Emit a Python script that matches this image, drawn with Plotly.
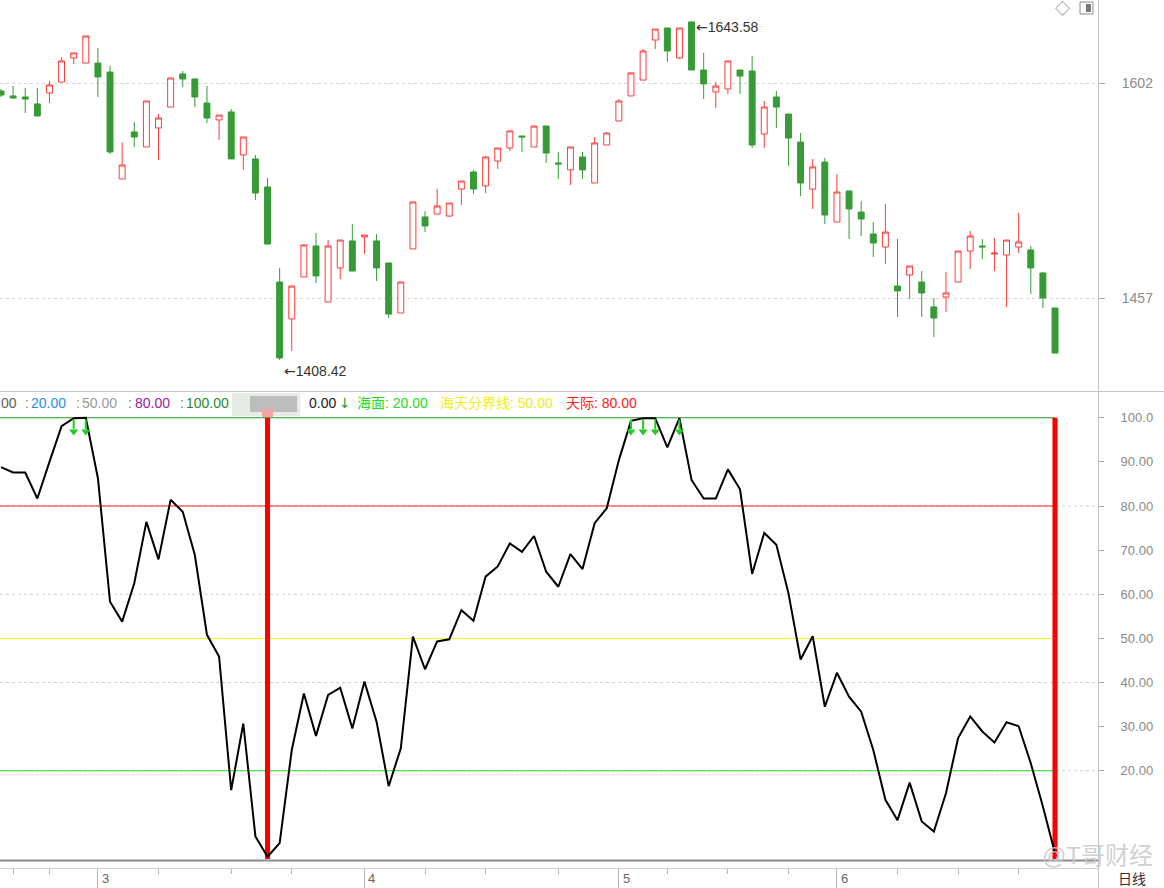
import plotly.graph_objects as go

W, H = 1164, 888

# ---------------- data ----------------
opens = [1596.6, 1593.3, 1592.6, 1587.9, 1595.3, 1602.7, 1618.9, 1615.5, 1615.5, 1609.4,
         1537.3, 1569.0, 1558.9, 1571.7, 1585.8, 1608.1, 1604.7, 1588.5, 1577.1, 1582.5,
         1553.5, 1550.8, 1531.9, 1467.8, 1442.9, 1471.2, 1492.1, 1454.3, 1477.3, 1495.5,
         1498.2, 1495.5, 1480.6, 1446.9, 1490.1, 1511.7, 1513.7, 1512.3, 1530.5, 1542.0,
         1532.6, 1549.4, 1558.2, 1566.3, 1558.9, 1573.0, 1548.1, 1543.4, 1552.1, 1534.6,
         1560.2, 1576.4, 1593.3, 1604.0, 1631.0, 1639.1, 1618.9, 1643.2, 1610.8, 1596.0,
         1598.0, 1610.8, 1610.1, 1567.6, 1592.6, 1581.1, 1562.2, 1530.5, 1548.7, 1508.3,
         1529.2, 1515.0, 1500.2, 1491.4, 1465.1, 1472.5, 1467.8, 1451.0, 1457.7, 1467.8,
         1488.7, 1492.1, 1486.7, 1486.0, 1491.4, 1489.4, 1473.9, 1450.3]
highs = [1598.0, 1600.0, 1598.7, 1598.7, 1603.4, 1619.6, 1622.3, 1633.7, 1625.6, 1613.5,
         1562.2, 1575.7, 1589.9, 1581.1, 1605.4, 1610.1, 1605.4, 1600.0, 1580.4, 1584.5,
         1565.6, 1553.5, 1538.0, 1477.3, 1465.1, 1493.4, 1500.9, 1496.1, 1496.1, 1506.9,
         1499.5, 1500.2, 1481.3, 1467.8, 1521.8, 1515.7, 1530.5, 1521.1, 1535.9, 1543.4,
         1552.8, 1558.2, 1569.7, 1566.3, 1573.0, 1573.0, 1555.5, 1558.9, 1555.5, 1565.6,
         1569.0, 1591.2, 1608.8, 1625.0, 1638.4, 1639.1, 1639.1, 1643.58, 1622.3, 1602.7,
         1616.9, 1610.8, 1620.2, 1589.9, 1596.6, 1581.1, 1568.3, 1550.8, 1551.4, 1540.7,
         1529.2, 1522.4, 1508.3, 1520.4, 1496.8, 1478.6, 1475.2, 1457.0, 1474.6, 1488.7,
         1502.2, 1496.8, 1497.5, 1496.1, 1514.4, 1492.1, 1474.6, 1450.3]
lows = [1592.6, 1591.2, 1581.8, 1579.5, 1588.5, 1602.7, 1614.8, 1615.5, 1592.6, 1554.1,
        1537.3, 1558.9, 1558.9, 1550.1, 1585.8, 1599.3, 1585.8, 1575.0, 1563.6, 1550.8,
        1543.4, 1523.1, 1493.4, 1415.2, 1421.3, 1471.2, 1467.1, 1454.3, 1469.8, 1475.2,
        1486.7, 1468.5, 1443.5, 1446.9, 1490.1, 1501.5, 1513.7, 1511.7, 1519.7, 1527.2,
        1527.8, 1544.0, 1556.2, 1555.5, 1558.9, 1548.1, 1537.3, 1533.2, 1537.3, 1534.6,
        1560.2, 1576.4, 1593.3, 1604.0, 1625.0, 1616.2, 1618.2, 1610.8, 1591.2, 1585.2,
        1594.6, 1594.6, 1558.2, 1558.2, 1571.7, 1546.1, 1525.8, 1517.1, 1506.9, 1508.3,
        1496.8, 1498.8, 1484.7, 1480.0, 1444.2, 1456.4, 1444.2, 1430.7, 1447.6, 1467.8,
        1476.6, 1483.3, 1475.2, 1451.0, 1487.4, 1459.7, 1450.3, 1419.9]
closes = [1593.9, 1591.9, 1591.2, 1579.8, 1600.7, 1616.9, 1622.3, 1633.7, 1606.1, 1555.5,
          1546.7, 1565.6, 1589.9, 1578.4, 1605.4, 1604.7, 1592.6, 1578.4, 1580.4, 1550.8,
          1565.6, 1527.8, 1493.4, 1416.6, 1465.1, 1492.8, 1471.9, 1492.1, 1496.1, 1475.2,
          1499.5, 1477.3, 1446.2, 1467.8, 1521.8, 1505.6, 1519.1, 1521.1, 1535.9, 1530.5,
          1552.1, 1558.2, 1569.7, 1565.6, 1573.0, 1554.8, 1547.4, 1558.9, 1543.4, 1561.6,
          1568.3, 1589.9, 1608.8, 1623.6, 1638.4, 1623.6, 1639.1, 1610.8, 1601.4, 1600.0,
          1616.9, 1606.7, 1560.2, 1585.8, 1585.8, 1564.9, 1534.6, 1545.4, 1513.0, 1528.5,
          1517.1, 1510.3, 1494.1, 1501.5, 1461.8, 1478.6, 1460.4, 1443.5, 1460.4, 1488.7,
          1498.8, 1491.5, 1487.3, 1496.1, 1494.8, 1477.3, 1457.0, 1419.9]
indicator = [88.8, 87.6, 87.6, 81.7, 90.0, 98.1, 99.9, 100.0, 86.3, 58.3,
             53.8, 62.5, 76.4, 67.9, 81.4, 78.7, 68.9, 50.8, 45.9, 15.6,
             30.7, 5.1, 0.5, 3.6, 24.7, 37.5, 27.9, 37.2, 38.8, 29.6,
             40.2, 31.1, 16.5, 25.1, 50.4, 43.0, 49.3, 49.8, 56.4, 54.0,
             64.0, 66.3, 71.5, 69.6, 73.2, 65.1, 61.7, 69.1, 65.7, 76.1,
             79.5, 90.4, 99.3, 99.9, 99.9, 93.3, 99.9, 85.9, 81.7, 81.7,
             88.3, 83.8, 64.6, 73.9, 71.2, 60.2, 45.2, 50.5, 34.5, 42.2,
             36.8, 33.4, 24.7, 13.4, 8.8, 17.3, 8.5, 6.2, 14.9, 27.4,
             32.3, 28.9, 26.4, 31.0, 30.1, 21.7, 11.9, 1.3]
signal_idx = [6, 7, 52, 53, 54, 56]          # green down-arrow signals
bar_idx = [22, 87]                          # red vertical bars
month_idx = [8, 30, 51, 69]
month_labels = ["3", "4", "5", "6"]
week_idx = [1, 4, 13, 19, 24, 35, 40, 46, 55, 60, 65, 74, 79, 84]
price_ticks = [1457, 1602]
ind_ticks = [20, 30, 40, 50, 60, 70, 80, 90, 100]
ind_ticktext = ["20.00", "30.00", "40.00", "50.00", "60.00", "70.00", "80.00", "90.00", "100.0"]
level_values = [100, 80, 50, 20]
level_colors = ["#229a22", "#ff2020", "#f2f200", "#22dd22"]
grid_levels = [20, 40, 60, 80]

header_left = ["00", ":", "20.00", ":", "50.00", ":", "80.00", ":", "100.00"]
header_left_colors = ["#606060", "#808080", "#2a8ee6", "#909090", "#9a9a9a", "#808080",
                      "#a020a0", "#808080", "#2a8a2a"]
header_right = ["0.00", "↓", "海面: 20.00", "海天分界线: 50.00", "天际: 80.00"]
header_right_colors = ["#202020", "#2a9a2a", "#22dd22", "#eeee20", "#ff2020"]

# ---------------- layout helpers ----------------
FONT = "Liberation Sans, Arial, Noto Sans CJK SC, sans-serif"
ARROW_FONT = "DejaVu Sans"
STEP_PX, FIRST_PX, PLOT_W = 12.115, 1.0, 1098.0
x_lo = (0 - FIRST_PX) / STEP_PX
x_hi = (PLOT_W - FIRST_PX) / STEP_PX


def px(p):
    return p / W


def py(p):
    return 1 - p / H


def arrow_span(ch):
    return "<span style='font-family:%s'>%s</span>" % (ARROW_FONT, ch)


xs = list(range(len(opens)))

fig = go.Figure()

fig.add_trace(go.Candlestick(
    x=xs, open=opens, high=highs, low=lows, close=closes,
    increasing=dict(line=dict(color="#ff3c3c", width=1), fillcolor="#ffffff"),
    decreasing=dict(line=dict(color="#369b36", width=1), fillcolor="#369b36"),
    whiskerwidth=0, xaxis="x", yaxis="y", showlegend=False, hoverinfo="skip"))

fig.add_trace(go.Bar(
    x=bar_idx, y=[level_values[0]] * len(bar_idx), base=0, width=0.42,
    marker=dict(color="#ff0000", line=dict(width=0)),
    xaxis="x2", yaxis="y2", showlegend=False, hoverinfo="skip"))

fig.add_trace(go.Scatter(
    x=xs, y=indicator, mode="lines", line=dict(color="#000000", width=2),
    xaxis="x2", yaxis="y2", showlegend=False, hoverinfo="skip"))

stem_x, stem_y = [], []
for i in signal_idx:
    stem_x += [i, i, None]
    stem_y += [99.6, 97.4, None]
fig.add_trace(go.Scatter(
    x=stem_x, y=stem_y, mode="lines", line=dict(color="#22cc22", width=2),
    xaxis="x2", yaxis="y2", showlegend=False, hoverinfo="skip"))
fig.add_trace(go.Scatter(
    x=signal_idx, y=[96.9] * len(signal_idx), mode="markers",
    marker=dict(symbol="triangle-down", size=8, color="#22cc22", line=dict(width=0)),
    xaxis="x2", yaxis="y2", showlegend=False, hoverinfo="skip"))

fig.add_trace(go.Scatter(
    x=bar_idx, y=[-1.7] * len(bar_idx), mode="markers", cliponaxis=False,
    marker=dict(symbol="triangle-up", size=7, color="#ff0000", line=dict(width=0)),
    xaxis="x2", yaxis="y2", showlegend=False, hoverinfo="skip"))

shapes = []
for g in grid_levels:
    shapes.append(dict(type="line", xref="x2 domain", yref="y2", x0=0, x1=1, y0=g, y1=g,
                       line=dict(color="#d0d0d0", width=1, dash="dot"), layer="below"))
for v, c in zip(level_values, level_colors):
    shapes.append(dict(type="line", xref="x2", yref="y2", x0=x_lo, x1=xs[-1], y0=v, y1=v,
                       line=dict(color=c, width=1), layer="below"))
# panel borders
shapes.append(dict(type="line", xref="paper", yref="paper", x0=0, x1=1, y0=py(391.5), y1=py(391.5),
                   line=dict(color="#c4c4c4", width=1)))
shapes.append(dict(type="line", xref="paper", yref="paper", x0=0, x1=px(1098), y0=py(860.5), y1=py(860.5),
                   line=dict(color="#8c8c8c", width=2), layer="below"))
shapes.append(dict(type="line", xref="paper", yref="paper", x0=px(1098.5), x1=px(1098.5), y0=py(860), y1=py(888),
                   line=dict(color="#c0c0c0", width=1)))
# blurred box in header
shapes.append(dict(type="rect", xref="paper", yref="paper", x0=px(232), x1=px(300), y0=py(416), y1=py(393),
                   line=dict(width=0), fillcolor="#e6ebe6"))
shapes.append(dict(type="rect", xref="paper", yref="paper", x0=px(250), x1=px(297), y0=py(412), y1=py(396),
                   line=dict(width=0), fillcolor="#bdbdbd"))
shapes.append(dict(type="rect", xref="paper", yref="paper", x0=px(262), x1=px(273), y0=py(417), y1=py(409),
                   line=dict(width=0), fillcolor="#f0a4a4"))
# top-right icon
shapes.append(dict(type="rect", xref="paper", yref="paper", x0=px(1080), x1=px(1093), y0=py(14), y1=py(2),
                   line=dict(color="#8a8a8a", width=1), fillcolor="#ffffff"))
shapes.append(dict(type="rect", xref="paper", yref="paper", x0=px(1086), x1=px(1091), y0=py(12), y1=py(4),
                   line=dict(width=0), fillcolor="#7a7a7a"))

annotations = []
left_pos = [-1, 23, 29, 74, 80, 126, 133, 178, 184]
for t, c, p in zip(header_left, header_left_colors, left_pos):
    annotations.append(dict(text=t, x=px(p), y=py(403), xref="paper", yref="paper", xanchor="left",
                            yanchor="middle", showarrow=False, font=dict(size=14, color=c, family=FONT)))
right_pos = [307, 337, 355, 438, 564]
for t, c, p in zip(header_right, header_right_colors, right_pos):
    txt = arrow_span(t) if t == "↓" else t
    annotations.append(dict(text=txt, x=px(p), y=py(403), xref="paper", yref="paper", xanchor="left",
                            yanchor="middle", showarrow=False, font=dict(size=14, color=c, family=FONT)))

imax = max(range(len(highs)), key=lambda i: highs[i])
imin = min(range(len(lows)), key=lambda i: lows[i])
annotations.append(dict(text=arrow_span("←") + "%.2f" % highs[imax], x=imax, y=highs[imax],
                        xref="x", yref="y", xanchor="left", yanchor="middle", xshift=2, yshift=-6,
                        showarrow=False, font=dict(size=14, color="#333333", family=FONT)))
annotations.append(dict(text=arrow_span("←") + "1408.42", x=imin, y=lows[imin],
                        xref="x", yref="y", xanchor="left", yanchor="middle", xshift=2, yshift=-11,
                        showarrow=False, font=dict(size=14, color="#333333", family=FONT)))

for m, lab in zip(month_idx, month_labels):
    annotations.append(dict(text=lab, x=m, y=py(878), xref="x2", yref="paper", xanchor="left",
                            yanchor="middle", xshift=2, showarrow=False,
                            font=dict(size=13, color="#666666", family=FONT)))
annotations.append(dict(text="日线", x=px(1116), y=py(879), xref="paper", yref="paper", xanchor="left",
                        yanchor="middle", showarrow=False, font=dict(size=14, color="#333333", family=FONT)))
annotations.append(dict(text="◇", x=px(1062), y=py(8), xref="paper", yref="paper", xanchor="center",
                        yanchor="middle", showarrow=False, font=dict(size=15, color="#8a8a8a", family=FONT)))
annotations.append(dict(text="@T哥财经", x=px(1155), y=py(855), xref="paper", yref="paper", xanchor="right",
                        yanchor="middle", showarrow=False,
                        font=dict(size=24, color="rgba(200,200,200,0.85)", family=FONT)))

axis_common = dict(showgrid=False, zeroline=False, domain=[0, px(PLOT_W)], range=[x_lo, x_hi])

fig.update_layout(
    width=W, height=H, autosize=False,
    margin=dict(l=0, r=0, t=0, b=0),
    paper_bgcolor="#ffffff", plot_bgcolor="#ffffff",
    hovermode=False, showlegend=False, boxgap=0.3,
    font=dict(family=FONT),
    xaxis=dict(**axis_common, anchor="y", showticklabels=False, ticks="",
               rangeslider=dict(visible=False)),
    xaxis2=dict(**axis_common, anchor="free", position=20 / H, tickmode="array",
                tickvals=month_idx, showticklabels=False, ticks="outside", ticklen=20,
                tickcolor="#b4b4b4", showline=True, linecolor="#d0d0d0",
                minor=dict(tickvals=week_idx, ticks="outside", ticklen=5, tickcolor="#b4b4b4")),
    yaxis=dict(domain=[py(391), 1], range=[1394.3, 1658.0], side="right", anchor="x",
               tickmode="array", tickvals=price_ticks, ticktext=[str(t) for t in price_ticks],
               ticks="outside", ticklen=6, tickcolor="#aaaaaa",
               tickfont=dict(size=14, color="#8a8a8a", family=FONT), ticklabelstandoff=14,
               showgrid=True, gridcolor="#d4d4d4", griddash="dot", showline=True,
               linecolor="#c0c0c0", zeroline=False),
    yaxis2=dict(domain=[py(860), py(392)], range=[-0.23, 105.84], side="right", anchor="x2",
                tickmode="array", tickvals=ind_ticks, ticktext=ind_ticktext,
                ticks="outside", ticklen=5, tickcolor="#aaaaaa",
                tickfont=dict(size=13, color="#8a8a8a", family=FONT), ticklabelstandoff=14,
                showgrid=False, showline=True, linecolor="#c0c0c0", zeroline=False),
    shapes=shapes, annotations=annotations,
)

fig.write_html("out.html")
